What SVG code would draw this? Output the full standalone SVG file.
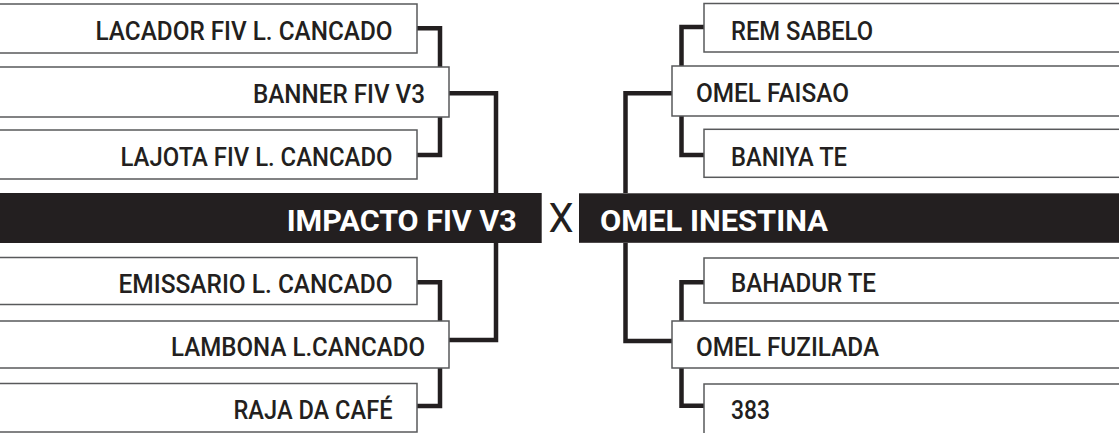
<svg xmlns="http://www.w3.org/2000/svg" width="1119" height="433" viewBox="0 0 1119 433">
<style>
.box{fill:#fff;stroke:#58595b;stroke-width:1.5}
.bar{fill:#231f20}
.lbl{font-family:Roboto,"Liberation Sans",sans-serif;font-size:26px;font-weight:500;fill:#231f20}
.big{font-family:Roboto,"Liberation Sans",sans-serif;font-size:29px;font-weight:700;fill:#fff}
.x{font-family:Roboto,"Liberation Sans",sans-serif;font-size:40px;font-weight:400;fill:#231f20}
.end{text-anchor:end}
.conn{fill:none;stroke:#231f20;stroke-width:4.5;stroke-linejoin:miter;stroke-linecap:butt}
</style>
<g id="connectors">
<path class="conn" d="M417,28.3 H440 V67"/>
<path class="conn" d="M417,155 H440 V117"/>
<path class="conn" d="M449,93.3 H496 V193"/>
<path class="conn" d="M496,243 V340 H449"/>
<path class="conn" d="M417,282.3 H440 V321"/>
<path class="conn" d="M417,406 H440 V368"/>
<path class="conn" d="M704,27 H681.5 V66"/>
<path class="conn" d="M704,155 H681.5 V116"/>
<path class="conn" d="M672,93.3 H625.5 V193"/>
<path class="conn" d="M625.5,243 V341 H672"/>
<path class="conn" d="M704,282.3 H681.5 V321"/>
<path class="conn" d="M704,405.7 H681.5 V368"/>
</g>
<g id="lacador"><rect class="box" x="-2" y="4" width="419" height="49"/><text class="lbl end" x="392.5" y="40" textLength="297" lengthAdjust="spacingAndGlyphs">LACADOR FIV L. CANCADO</text></g>
<g id="banner"><rect class="box" x="-2" y="67" width="451" height="50"/><text class="lbl end" x="425" y="103" textLength="172" lengthAdjust="spacingAndGlyphs">BANNER FIV V3</text></g>
<g id="lajota"><rect class="box" x="-2" y="130" width="419" height="49"/><text class="lbl end" x="392.5" y="166" textLength="272" lengthAdjust="spacingAndGlyphs">LAJOTA FIV L. CANCADO</text></g>
<g id="impacto"><rect class="bar" x="-2" y="193" width="543.7" height="50"/><text class="big end" x="516.7" y="231" textLength="230" lengthAdjust="spacingAndGlyphs">IMPACTO FIV V3</text></g>
<g id="vs"><text class="x" x="561" y="232" text-anchor="middle">X</text></g>
<g id="emissario"><rect class="box" x="-2" y="257.5" width="419" height="47"/><text class="lbl end" x="392.5" y="292.5" textLength="274" lengthAdjust="spacingAndGlyphs">EMISSARIO L. CANCADO</text></g>
<g id="lambona"><rect class="box" x="-2" y="321" width="451" height="47"/><text class="lbl end" x="425" y="355.5" textLength="254" lengthAdjust="spacingAndGlyphs">LAMBONA L.CANCADO</text></g>
<g id="raja"><rect class="box" x="-2" y="383.5" width="419" height="48.5"/><text class="lbl end" x="392.5" y="419" textLength="159" lengthAdjust="spacingAndGlyphs">RAJA DA CAFÉ</text></g>
<g id="rem"><rect class="box" x="704" y="3.5" width="420" height="48.5"/><text class="lbl" x="731" y="39.8" textLength="142" lengthAdjust="spacingAndGlyphs">REM SABELO</text></g>
<g id="faisao"><rect class="box" x="672" y="66" width="452" height="50"/><text class="lbl" x="696" y="102.2" textLength="153" lengthAdjust="spacingAndGlyphs">OMEL FAISAO</text></g>
<g id="baniya"><rect class="box" x="704" y="129.3" width="420" height="48"/><text class="lbl" x="731" y="165.5" textLength="116" lengthAdjust="spacingAndGlyphs">BANIYA TE</text></g>
<g id="inestina"><rect class="bar" x="579" y="193.3" width="545" height="49.5"/><text class="big" x="600" y="231" textLength="228" lengthAdjust="spacingAndGlyphs">OMEL INESTINA</text></g>
<g id="bahadur"><rect class="box" x="704" y="258" width="420" height="45"/><text class="lbl" x="731" y="292.2" textLength="145" lengthAdjust="spacingAndGlyphs">BAHADUR TE</text></g>
<g id="fuzilada"><rect class="box" x="672" y="321" width="452" height="47"/><text class="lbl" x="696" y="355.5" textLength="183" lengthAdjust="spacingAndGlyphs">OMEL FUZILADA</text></g>
<g id="n383"><rect class="box" x="704" y="384" width="420" height="52"/><text class="lbl" x="731" y="418.8" textLength="39" lengthAdjust="spacingAndGlyphs">383</text></g>
</svg>
